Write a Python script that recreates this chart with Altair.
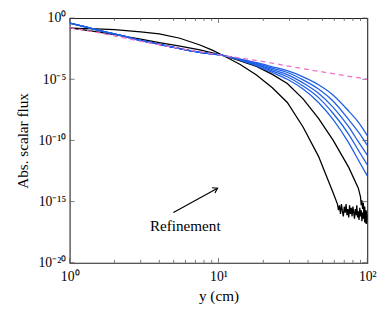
import altair as alt
import pandas as pd

# ---- data (y values stored as log10 exponents) ----
head_x = [1, 1.3, 1.7, 2.2, 3, 4, 5.5, 7.5, 11]
blue_head = [-0.42, -0.75, -1.1, -1.42, -1.82, -2.15, -2.5, -2.8, -3.08]
tail_x = [14, 18, 23, 29, 37, 47, 59, 75, 87, 100]
blue1_tail = [-3.35, -3.65, -3.98, -4.3, -4.8, -5.45, -6.3, -7.6, -8.5, -9.6]
blue2_tail = [-3.37, -3.7, -4.1, -4.45, -5.05, -5.8, -6.8, -8.3, -9.3, -10.4]
blue3_tail = [-3.4, -3.77, -4.22, -4.62, -5.3, -6.15, -7.3, -8.9, -10.1, -11.2]
blue4_tail = [-3.42, -3.83, -4.33, -4.8, -5.55, -6.5, -7.8, -9.5, -10.8, -12.0]
blue5_tail = [-3.45, -3.9, -4.45, -5.0, -5.8, -6.9, -8.3, -10.2, -11.6, -12.9]

pink_x = [1, 1.5, 2, 3, 5, 7.5, 11, 20, 30, 50, 70, 100]
pink_y = [-0.79, -1.15, -1.45, -1.9, -2.4, -2.75, -3.08, -3.55, -3.95, -4.4, -4.7, -5.0]

black1_x = [1, 1.5, 2, 3, 4, 5.5, 7.5, 9, 11, 14, 18, 23, 29, 37, 47, 59,
            63, 64, 65, 66, 67, 68, 69, 70, 71, 72, 73, 74, 75, 76, 77, 78, 79, 80,
            81, 82, 83, 84, 85, 86, 87, 88, 89, 90, 91, 92, 93, 94, 95, 96, 97, 98, 99, 100]
black1_y = [-0.82, -0.88, -0.95, -1.12, -1.3, -1.65, -2.2, -2.6, -3.12, -3.8, -4.65, -5.7, -6.9, -8.9, -11.3, -14.3,
            -15.2, -15.7, -15.3, -16.0, -15.2, -15.8, -16.2, -15.4, -15.9, -15.2, -16.1, -15.6, -16.3, -15.3, -16.0, -15.5, -16.2, -15.4,
            -15.9, -16.4, -15.6, -16.1, -15.3, -16.3, -15.8, -16.5, -15.5, -16.2, -15.7, -16.6, -15.9, -16.4, -15.6, -16.7, -16.0, -16.8, -15.8, -16.5]

black2_x = [1, 1.5, 2, 3, 4, 5.5, 7.5, 11, 14, 18, 23, 29, 37, 47, 59, 75, 87,
            90, 91, 92, 93, 94, 95, 96, 97, 98, 99, 100]
black2_y = [-0.8, -1.1, -1.35, -1.72, -2.0, -2.3, -2.6, -3.08, -3.5, -3.95, -4.6, -5.35, -6.6, -8.2, -10.0, -12.2, -13.9,
            -14.6, -15.3, -14.9, -15.6, -15.1, -16.0, -15.4, -16.3, -15.7, -16.8, -16.1]

x_major = [1, 10, 100]
x_minor = [2, 3, 4, 5, 6, 7, 8, 9, 20, 30, 40, 50, 60, 70, 80, 90]
y_major = [1, 1e-5, 1e-10, 1e-15, 1e-20]
y_labels = ["10⁰", "10⁻⁵", "10⁻¹⁰", "10⁻¹⁵", "10⁻²⁰"]
x_labels = ["10⁰", "10¹", "10²"]

arrow_x = [4.98, 9.85]
arrow_y = [-15.89, -13.9]
note_x = [5.98]
note_y = [-17.0]
note_text = ["Refinement"]

W, H = 304, 250
FONT = "Liberation Serif"

rows = []
def add(name, xs, ys):
    for xv, yv in zip(xs, ys):
        rows.append({"s": name, "x": xv, "y": 10.0 ** yv})

add("k1", black1_x, black1_y)
add("k2", black2_x, black2_y)
for i, t in enumerate([blue1_tail, blue2_tail, blue3_tail, blue4_tail, blue5_tail]):
    add(f"b{i+1}", head_x + tail_x, blue_head + t)
add("p", pink_x, pink_y)
df = pd.DataFrame(rows)

xs = alt.Scale(type="log", domain=[1, 100], nice=False)
ys = alt.Scale(type="log", domain=[1e-20, 1], nice=False)

def ylab_expr():
    parts = []
    for v, lab in zip(y_major, y_labels):
        parts.append(f"datum.value > {v*0.5} ? '{lab}' : ")
    return "".join(parts) + "''"

def xlab_expr():
    parts = []
    for v, lab in zip(x_major, x_labels):
        parts.append(f"datum.value < {v*1.5} ? '{lab}' : ")
    return "".join(parts) + "''"

common = dict(ticks=False, domain=False, grid=False, labelFlush=False,
              labelFont=FONT, titleFont=FONT, labelFontSize=14, titleFontSize=15.5,
              titleFontWeight="normal", labelColor="black", titleColor="black")
X = alt.X("x:Q", scale=xs, title="y (cm)",
          axis=alt.Axis(values=x_major, labelExpr=xlab_expr(), labelPadding=7, titlePadding=6, **common))
Y = alt.Y("y:Q", scale=ys, title="Abs. scalar flux",
          axis=alt.Axis(values=y_major, labelExpr=ylab_expr(), labelPadding=4, titlePadding=8, **common))

black = alt.Chart(df).transform_filter(alt.FieldOneOfPredicate(field="s", oneOf=["k1", "k2"])).mark_line(
    color="black", strokeWidth=1.3, clip=True).encode(x=X, y=Y, detail="s:N", order="x:Q")
blue = alt.Chart(df).transform_filter(alt.FieldOneOfPredicate(field="s", oneOf=["b1", "b2", "b3", "b4", "b5"])).mark_line(
    color="#1f5fe6", strokeWidth=1.3, clip=True, interpolate="monotone").encode(x="x:Q", y="y:Q", detail="s:N", order="x:Q")
pink = alt.Chart(df).transform_filter(alt.datum.s == "p").mark_line(
    color="#f070c8", strokeWidth=1.3, strokeDash=[5, 4], clip=True).encode(x="x:Q", y="y:Q", order="x:Q")

adf = pd.DataFrame({"x": arrow_x, "y": [10.0 ** v for v in arrow_y]})
arrow_line = alt.Chart(adf).mark_line(color="black", strokeWidth=1.2).encode(x="x:Q", y="y:Q")
head = alt.Chart(adf.iloc[[1]]).mark_point(
    shape="M-1,-0.65L0,0L-1,0.65", filled=False, color="black", strokeWidth=1.2,
    size=90, angle=331, opacity=1).encode(x="x:Q", y="y:Q")
ndf = pd.DataFrame({"x": note_x, "y": [10.0 ** v for v in note_y], "t": note_text})
note = alt.Chart(ndf).mark_text(font=FONT, fontSize=15.5, color="black", baseline="middle").encode(
    x="x:Q", y="y:Q", text="t:N")

# inward tick marks on all four sides
xmaj = pd.DataFrame({"x": x_major})
xmin = pd.DataFrame({"x": x_minor})
ymaj = pd.DataFrame({"y": y_major})
tick_style = dict(color="#555", strokeWidth=0.8)
t1 = alt.Chart(xmaj).mark_rule(**tick_style).encode(x="x:Q", y=alt.value(H), y2=alt.value(H - 5))
t2 = alt.Chart(xmaj).mark_rule(**tick_style).encode(x="x:Q", y=alt.value(0), y2=alt.value(5))
t3 = alt.Chart(xmin).mark_rule(**tick_style).encode(x="x:Q", y=alt.value(H), y2=alt.value(H - 3))
t4 = alt.Chart(xmin).mark_rule(**tick_style).encode(x="x:Q", y=alt.value(0), y2=alt.value(3))
t5 = alt.Chart(ymaj).mark_rule(**tick_style).encode(y="y:Q", x=alt.value(0), x2=alt.value(5))
t6 = alt.Chart(ymaj).mark_rule(**tick_style).encode(y="y:Q", x=alt.value(W), x2=alt.value(W - 5))

chart = alt.layer(black, t1, t2, t3, t4, t5, t6, blue, pink, arrow_line, head, note).properties(
    width=W, height=H,
    autosize=alt.AutoSizeParams(type="none"),
    padding={"left": 63, "top": 7, "right": 15, "bottom": 49},
    background="white",
).configure_view(stroke="#222", strokeWidth=1.1)

chart.save("out.html", embed_options={"renderer": "svg", "actions": False})
